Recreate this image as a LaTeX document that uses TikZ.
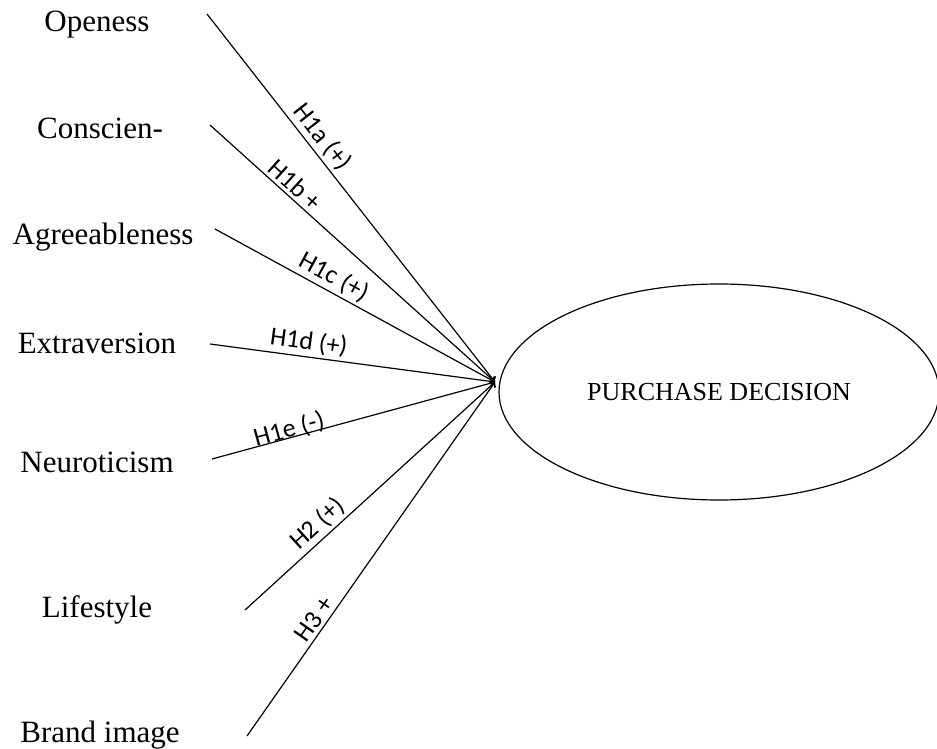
\documentclass[tikz,border=0pt]{standalone}
\usepackage{fontspec}
\setmainfont{Liberation Serif}
\newfontfamily\hypfont{Carlito}
\usetikzlibrary{shapes.geometric}
\begin{document}
\begin{tikzpicture}[x=0.5pt, y=-0.5pt,
    factor/.style={font=\fontsize{15.5}{18}\selectfont, inner sep=0pt},
    hyp/.style={font=\hypfont\fontsize{13}{15}\selectfont, sloped, above, inner sep=1.5pt},
    link/.style={line width=0.6pt, ->}]
\useasboundingbox (0,0) rectangle (937,749);
\node[ellipse, draw, line width=0.6pt, minimum width=220pt, minimum height=108pt, inner sep=0pt, font=\fontsize{13}{15}\selectfont] (pd) at (719,392){PURCHASE DECISION};
\coordinate (tip) at (495,382);
\node[factor] (ope) at (97,25){Openess};
\node[factor] (con) at (100,128){Conscien-};
\node[factor] (agr) at (103,237){Agreeableness};
\node[factor] (ext) at (97,343){Extraversion};
\node[factor] (neu) at (97,462){Neuroticism};
\node[factor] (lif) at (97,610){Lifestyle};
\node[factor] (bra) at (100,735){Brand image};
\coordinate (sope) at (207,14);
\coordinate (scon) at (210,125);
\coordinate (sagr) at (215,229);
\coordinate (sext) at (210,344);
\coordinate (sneu) at (212,459);
\coordinate (slif) at (245,610);
\coordinate (sbra) at (247,736);
\draw[link](sope) -- node[hyp, pos=0.36]{H1a (+)} (tip);
\draw[link](scon) -- node[hyp, pos=0.27]{H1b +} (tip);
\draw[link](sagr) -- node[hyp, pos=0.40]{H1c (+)} (tip);
\draw[link](sext) -- node[hyp, pos=0.34]{H1d (+)} (tip);
\draw[link](sneu) -- node[hyp, pos=0.28, inner sep=-2pt]{H1e (-)} (tip);
\draw[link](slif) -- node[hyp, pos=0.33]{H2 (+)} (tip);
\draw[link](sbra) -- node[hyp, pos=0.31]{H3 +} (tip);
\end{tikzpicture}
\end{document}
